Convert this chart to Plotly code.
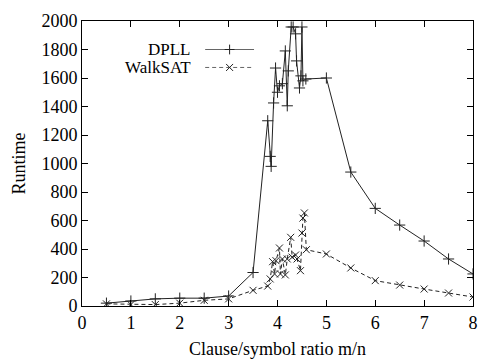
import plotly.graph_objects as go

# ---- data ----
dpll_x = [0.5, 1.0, 1.5, 2.0, 2.5, 3.0, 3.5, 3.8, 3.85, 3.87, 3.92, 3.96, 4.0, 4.04,
          4.1, 4.16, 4.2, 4.22, 4.28, 4.32, 4.37, 4.39, 4.45, 4.48, 4.5, 4.52, 4.58,
          5.0, 5.5, 6.0, 6.5, 7.0, 7.5, 8.0]
dpll_y = [20, 35, 50, 55, 55, 70, 235, 1300, 1050, 980, 1425, 1670, 1500, 1545,
          1560, 1790, 1405, 1650, 1958, 1958, 1910, 1720, 1530, 1615, 1958, 1580, 1593,
          1600, 940, 685, 568, 456, 330, 225]

walk_x = [0.5, 1.0, 1.5, 2.0, 2.5, 3.0, 3.5, 3.8, 3.85, 3.9, 3.94, 3.97, 4.04, 4.06,
          4.1, 4.16, 4.2, 4.27, 4.3, 4.37, 4.4, 4.47, 4.5, 4.52, 4.55, 4.59,
          5.0, 5.5, 6.0, 6.5, 7.0, 7.5, 8.0]
walk_y = [15, 10, 10, 20, 40, 50, 110, 140, 190, 311, 225, 318, 407, 225,
          330, 218, 330, 482, 343, 358, 330, 248, 512, 617, 653, 395,
          365, 267, 178, 147, 119, 91, 63]

x_ticks = [0, 1, 2, 3, 4, 5, 6, 7, 8]
y_ticks = list(range(0, 2001, 200))
series_names = ["DPLL", "WalkSAT"]

FONT = "'Liberation Serif', 'Times New Roman', serif"
INK = "#222222"
FS = 18

fig = go.Figure()
fig.add_trace(go.Scatter(
    x=dpll_x, y=dpll_y, mode="lines+markers", name=series_names[0],
    line=dict(color=INK, width=1),
    marker=dict(symbol="cross-thin", size=8, line=dict(color=INK, width=1)),
    showlegend=False))
fig.add_trace(go.Scatter(
    x=walk_x, y=walk_y, mode="lines+markers", name=series_names[1],
    line=dict(color=INK, width=1, dash="4px,3px"),
    marker=dict(symbol="x-thin", size=7, line=dict(color=INK, width=1)),
    showlegend=False))

# custom gnuplot-style key (text left, sample right)
key_y = [0.900, 0.837]
key_dash = ["solid", "4px,3px"]
key_sym = ["cross-thin", "x-thin"]
for i, nm in enumerate(series_names):
    fig.add_trace(go.Scatter(
        x=[0.315, 0.44], y=[key_y[i], key_y[i]], xaxis="x2", yaxis="y2",
        mode="lines", line=dict(color="#666666", width=1, dash=key_dash[i]),
        showlegend=False, hoverinfo="skip"))
    fig.add_trace(go.Scatter(
        x=[0.3775], y=[key_y[i]], xaxis="x2", yaxis="y2", mode="markers",
        marker=dict(symbol=key_sym[i], size=7, line=dict(color=INK, width=1)),
        showlegend=False, hoverinfo="skip"))
    fig.add_annotation(x=0.284, y=key_y[i], xref="paper", yref="paper",
                       text=nm, showarrow=False, xanchor="right", yanchor="middle",
                       font=dict(family=FONT, size=17, color="black"))

axis_common = dict(
    showgrid=False, zeroline=False, showline=True, linecolor="black", linewidth=1,
    mirror="ticks", ticks="inside", ticklen=6, tickcolor="black", tickwidth=1,
    automargin=False,
    tickfont=dict(family=FONT, size=FS, color="black"))

# page body has an 8px margin; size figure so plot area lands where the reference has it
fig.update_layout(
    width=496, height=352,
    margin=dict(l=74, r=31, t=13, b=54),
    paper_bgcolor="white", plot_bgcolor="white",
    font=dict(family=FONT, size=FS, color="black"),
    xaxis=dict(range=[0, 8], tickvals=x_ticks,
               title=dict(text="Clause/symbol ratio m/n", standoff=10,
                          font=dict(family=FONT, size=FS)), **axis_common),
    yaxis=dict(range=[0, 2000], tickvals=y_ticks,
               title=dict(text="Runtime", standoff=11,
                          font=dict(family=FONT, size=FS)), **axis_common),
    xaxis2=dict(range=[0, 1], overlaying="x", visible=False, domain=[0, 1]),
    yaxis2=dict(range=[0, 1], overlaying="y", visible=False, domain=[0, 1]),
)

fig.write_html("out.html")
